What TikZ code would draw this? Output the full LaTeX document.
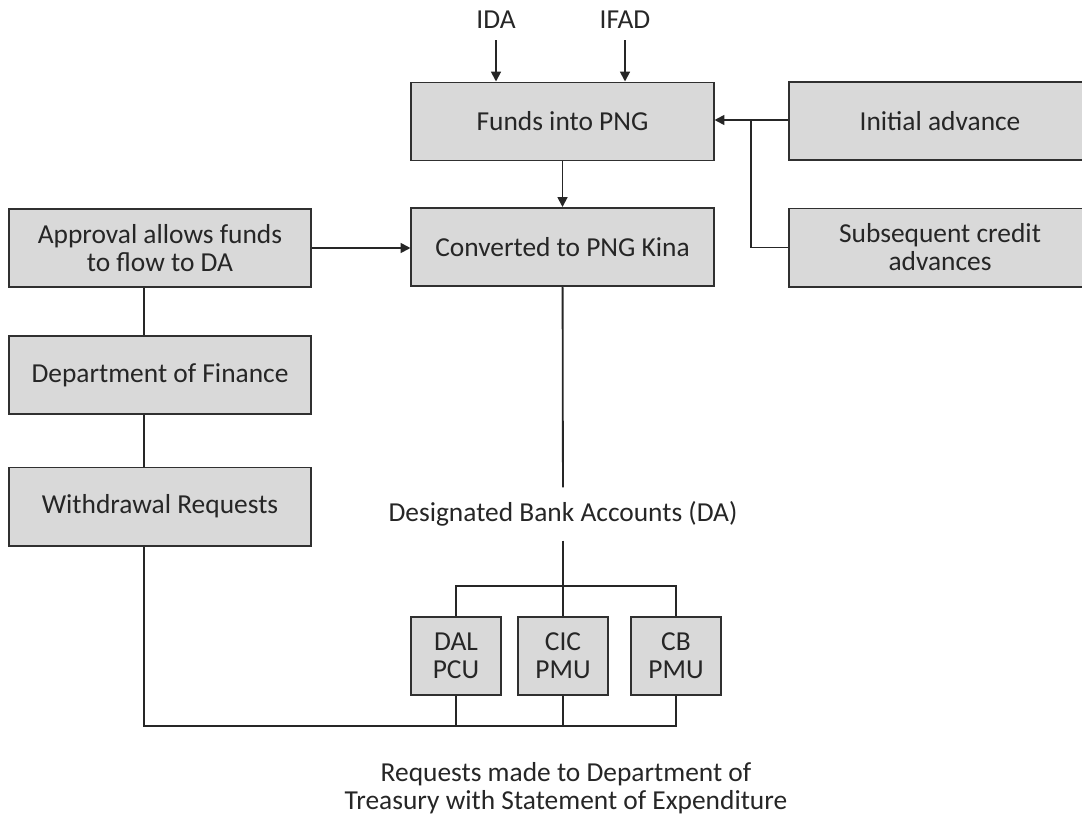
\documentclass[tikz,border=0pt]{standalone}
\usepackage{fontspec}
\setmainfont{Carlito}
\usetikzlibrary{arrows.meta,positioning,calc}
\definecolor{boxfill}{HTML}{D9D9D9}
\definecolor{boxline}{HTML}{303030}
\definecolor{textdark}{HTML}{262626}
\tikzset{
  box/.style={draw=boxline, line width=1.4pt, fill=boxfill, align=center, text=textdark, minimum width=7.55cm, minimum height=1.95cm, inner sep=0pt},
  unitbox/.style={box, minimum width=2.25cm},
  plain/.style={align=center, text=textdark, inner ysep=8pt},
  link/.style={draw=black!85, line width=1.3pt},
  arrow/.style={link, -{Triangle[length=7pt, width=7pt]}}
}
\begin{document}
\begin{tikzpicture}[x=0.025cm, y=-0.025cm, font=\fontsize{19.5}{20}\selectfont]
  \useasboundingbox (0,0) rectangle (1082,816);

  % sources
  \node[plain] (ida) at (496,20) {IDA};
  \node[plain] (ifad) at (625,20) {IFAD};

  \node[box] (funds) at (562.5,121.5) {Funds into PNG};
  \node[box] (initial) at (940,121) {Initial advance};
  \node[box] (subseq) at (940,247.5) {Subsequent credit\\advances};
  \node[box] (convert) at (562.5,247) {Converted to PNG Kina};

  % left column
  \node[box] (approval) at (160,248) {Approval allows funds\\to flow to DA};
  \node[box] (finance) at (160,375) {Department of Finance};
  \node[box] (withdraw) at (160,506.5) {Withdrawal Requests};

  % accounts
  \node[plain, inner ysep=10pt] (da) at (563,514) {Designated Bank Accounts (DA)};
  \node[unitbox] (dal) at (456,656) {DAL\\PCU};
  \node[unitbox] (cic) at (563,656) {CIC\\PMU};
  \node[unitbox] (cb) at (676,656) {CB\\PMU};
  \node[plain, inner ysep=2pt] (soe) at (566,788) {Requests made to Department of\\Treasury with Statement of Expenditure};

  \coordinate (join) at (751,120);
  \coordinate (split) at (563,586);
  \coordinate (bus) at (563,726);

  \draw[arrow] (ida) -- (ida |- funds.north);
  \draw[arrow] (ifad) -- (ifad |- funds.north);
  \draw[arrow] (initial.west |- join) -- (funds.east |- join);
  \draw[link] (subseq.west) -| (join);
  \draw[arrow] (funds) -- (convert);
  \draw[arrow] (approval.east) -- (approval.east -| convert.west);

  \draw[link] ($(approval.south)+(-16,0)$) -- ($(finance.north)+(-16,0)$);
  \draw[link] ($(finance.south)+(-16,0)$) -- ($(withdraw.north)+(-16,0)$);

  \draw[link] (convert) -- (da);
  \draw[link] (da) -- (cic);
  \draw[link] (dal.north) |- (split) -| (cb.north);
  \draw[link] ($(withdraw.south)+(-16,0)$) |- (bus) -| (cb.south);
  \draw[link] (dal.south) -- (dal.south |- bus);
  \draw[link] (cic.south) -- (bus);
\end{tikzpicture}
\end{document}
